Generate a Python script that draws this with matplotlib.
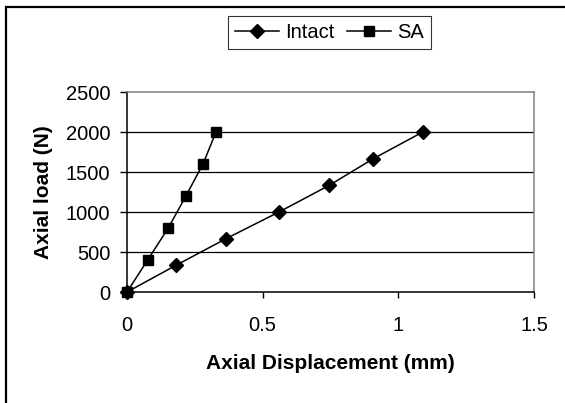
import numpy as np
import matplotlib
matplotlib.use("Agg")
import matplotlib.pyplot as plt
from matplotlib.patches import Rectangle

# data
intact_disp = [0, 0.18, 0.365, 0.56, 0.745, 0.908, 1.09]
intact_load = [0, 333, 667, 1000, 1333, 1667, 2000]
sa_disp = [0, 0.076, 0.152, 0.217, 0.28, 0.328]
sa_load = [0, 400, 800, 1200, 1600, 2000]

x_ticks = [0, 0.5, 1, 1.5]
x_tick_labels = ["0", "0.5", "1", "1.5"]
y_ticks = [0, 500, 1000, 1500, 2000, 2500]

plt.rcParams['font.family'] = ['Liberation Sans', 'DejaVu Sans']

fig = plt.figure(figsize=(5.65, 4.03), dpi=100)
ax = fig.add_axes([0.2248, 0.2754, 0.7204, 0.4963])

ax.plot(intact_disp, intact_load, color="black", lw=1.1, marker="D",
        ms=7, label="Intact", clip_on=False, zorder=3)
ax.plot(sa_disp, sa_load, color="black", lw=1.1, marker="s",
        ms=7.5, label="SA", clip_on=False, zorder=3)

ax.set_xlim(0, 1.5)
ax.set_ylim(0, 2500)
ax.set_xticks(x_ticks)
ax.set_xticklabels(x_tick_labels)
ax.set_yticks(y_ticks)
for y in y_ticks[1:-1]:
    ax.axhline(y, color="black", lw=0.9, zorder=1)

ax.spines["top"].set_color("#808080")
ax.spines["right"].set_color("#808080")
ax.spines["left"].set_color("black")
ax.spines["bottom"].set_color("black")
for s in ax.spines.values():
    s.set_linewidth(1.1)

ax.tick_params(axis="x", direction="out", length=4, width=1, pad=13,
               labelsize=14.5)
ax.tick_params(axis="y", direction="out", length=5, width=1, pad=7,
               labelsize=14.5)

ax.set_xlabel("Axial Displacement (mm)", fontsize=15, fontweight="bold")
ax.set_ylabel("Axial load (N)", fontsize=15, fontweight="bold")
ax.xaxis.set_label_coords(0.5, -0.355)
ax.xaxis.label.set_va("center")
ax.yaxis.set_label_coords(-0.206, 0.5)
ax.yaxis.label.set_va("center")

leg = ax.legend(loc="center", bbox_to_anchor=(0.583, 0.919),
                bbox_transform=fig.transFigure, ncol=2, fontsize=14.5,
                frameon=True, fancybox=False, handlelength=2.2,
                handletextpad=0.3, columnspacing=0.6, borderpad=0.35)
leg.get_frame().set_edgecolor("black")
leg.get_frame().set_linewidth(0.8)

# outer chart border
fig.patches.append(Rectangle((0.0106, -0.1), 1.2, 0.9826 + 0.1,
                             transform=fig.transFigure, fill=False,
                             edgecolor="black", lw=1.6))

fig.savefig("out.png", dpi=100)
